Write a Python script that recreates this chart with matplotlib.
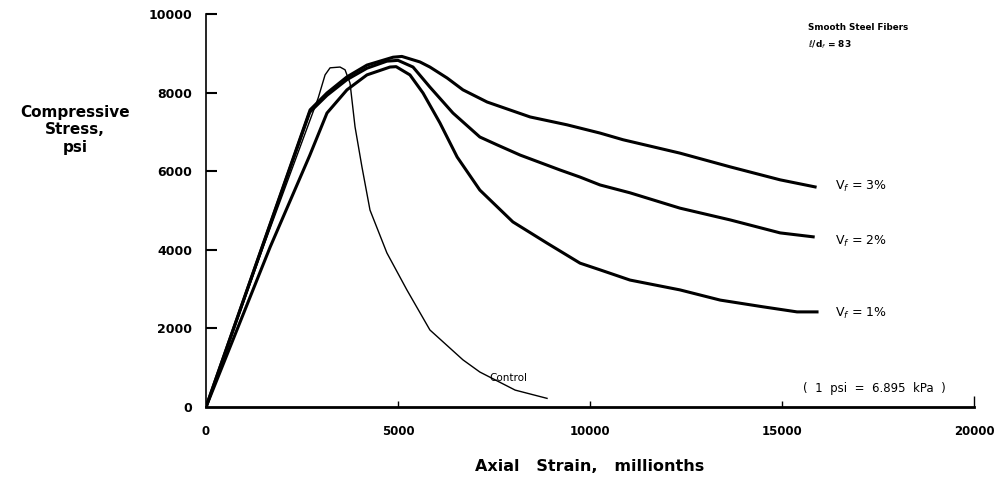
import matplotlib.pyplot as plt

# strain (millionths) / stress (psi)
control_strain = [0, 1500, 2920, 3100, 3230, 3490, 3620, 3750, 3880, 4060, 4270,
                  4710, 5230, 5830, 6690, 7130, 8050, 8880]
control_stress = [0, 4100, 7860, 8450, 8630, 8650, 8580, 8240, 7130, 6110, 5010,
                  3920, 2980, 1960, 1200, 890, 430, 220]

vf3_strain = [0, 2710, 3150, 3670, 4190, 4870, 5100, 5570, 5830, 6280, 6690, 7320,
              8440, 9400, 10260, 10860, 12340, 13650, 14950, 15860]
vf3_stress = [0, 7560, 7990, 8400, 8700, 8900, 8920, 8780, 8650, 8370, 8070, 7760,
              7380, 7180, 6970, 6800, 6460, 6110, 5780, 5600]

vf2_strain = [0, 2700, 3150, 3670, 4190, 4710, 5000, 5390, 5830, 6430, 7130, 7580,
              8180, 9220, 9740, 10260, 11040, 12340, 13650, 14950, 15810]
vf2_stress = [0, 7500, 7930, 8330, 8620, 8800, 8820, 8650, 8140, 7480, 6870, 6670,
              6410, 6030, 5850, 5650, 5450, 5060, 4760, 4430, 4330]

vf1_strain = [0, 1670, 2700, 3150, 3670, 4190, 4790, 4950, 5310, 5650, 6090,
              6540, 7130, 7990, 8880, 9740, 10260, 11040, 12340, 13390, 14500,
              15390, 15910]
vf1_stress = [0, 4070, 6400, 7480, 8070, 8450, 8650, 8660, 8450, 7990, 7230,
              6360, 5520, 4710, 4170, 3660, 3490, 3230, 2980, 2720, 2550,
              2420, 2420]

x_ticks = [0, 5000, 10000, 15000, 20000]
y_ticks = [0, 2000, 4000, 6000, 8000, 10000]

fig = plt.figure(figsize=(10.04, 4.79), dpi=100)
ax = fig.add_axes([0.2052, 0.1503, 0.765, 0.8205])

ax.plot(control_strain, control_stress, color="black", lw=1.0)
ax.plot(vf3_strain, vf3_stress, color="black", lw=2.2)
ax.plot(vf2_strain, vf2_stress, color="black", lw=2.2)
ax.plot(vf1_strain, vf1_stress, color="black", lw=2.2)

ax.set_xlim(0, 20000)
ax.set_ylim(0, 10000)
ax.set_xticks(x_ticks)
ax.set_yticks(y_ticks)
ax.set_xticklabels([str(v) for v in x_ticks], fontsize=8.5, fontweight="bold")
ax.set_yticklabels([str(v) for v in y_ticks], fontsize=9, fontweight="bold")
ax.tick_params(axis="x", direction="in", length=4, width=1, pad=13)
ax.tick_params(axis="y", direction="in", length=8, width=1.5, pad=10)
ax.xaxis.get_major_ticks()[-1].tick1line.set_markersize(8)
ax.xaxis.get_major_ticks()[0].tick1line.set_visible(False)
ax.yaxis.get_major_ticks()[0].tick1line.set_visible(False)

for side in ["top", "right"]:
    ax.spines[side].set_visible(False)
ax.spines["bottom"].set_linewidth(2)
ax.spines["left"].set_linewidth(1.2)

ax.set_xlabel("Axial   Strain,   millionths", fontsize=11.5, fontweight="bold",
              labelpad=15)
fig.text(0.075, 0.729, "Compressive\nStress,\npsi", ha="center", va="center",
         fontsize=11, fontweight="bold", linespacing=1.2)

ax.text(15680, 9650, "Smooth Steel Fibers", fontsize=6.3, fontweight="bold", va="center")
ax.text(15680, 9210, r"$\ell$/d$_f$ = 83", fontsize=6.5, fontweight="bold", va="center")
ax.text(16380, 5600, r"V$_f$ = 3%", fontsize=9, va="center")
ax.text(16380, 4220, r"V$_f$ = 2%", fontsize=9, va="center")
ax.text(16380, 2390, r"V$_f$ = 1%", fontsize=9, va="center")
ax.text(7390, 750, "Control", fontsize=7.5, va="center")
ax.text(17400, 480, "(  1  psi  =  6.895  kPa  )", fontsize=8.5, ha="center", va="center")

plt.savefig("out.png", dpi=100)
